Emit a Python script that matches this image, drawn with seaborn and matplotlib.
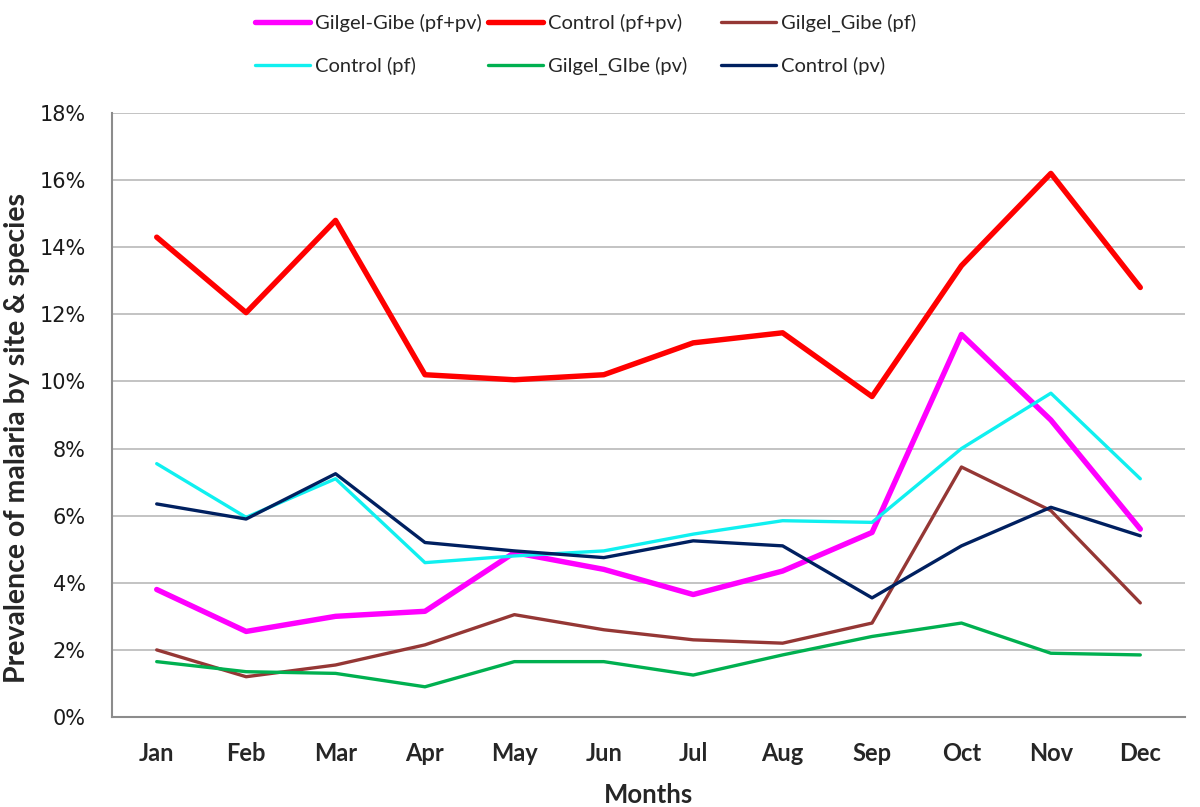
import matplotlib
matplotlib.use("Agg")
import matplotlib.pyplot as plt
import seaborn as sns
import pandas as pd
from matplotlib.ticker import FuncFormatter, MultipleLocator, FixedLocator

months = ["Jan", "Feb", "Mar", "Apr", "May", "Jun", "Jul", "Aug", "Sep", "Oct", "Nov", "Dec"]

gg_pfpv = [3.8, 2.55, 3.0, 3.15, 4.9, 4.4, 3.65, 4.35, 5.5, 11.4, 8.85, 5.6]
ctrl_pfpv = [14.3, 12.05, 14.8, 10.2, 10.05, 10.2, 11.15, 11.45, 9.55, 13.45, 16.2, 12.8]
gg_pf = [2.0, 1.2, 1.55, 2.15, 3.05, 2.6, 2.3, 2.2, 2.8, 7.45, 6.15, 3.4]
ctrl_pf = [7.55, 5.95, 7.1, 4.6, 4.8, 4.95, 5.45, 5.85, 5.8, 8.0, 9.65, 7.1]
gg_pv = [1.65, 1.35, 1.3, 0.9, 1.65, 1.65, 1.25, 1.85, 2.4, 2.8, 1.9, 1.85]
ctrl_pv = [6.35, 5.9, 7.25, 5.2, 4.95, 4.75, 5.25, 5.1, 3.55, 5.1, 6.25, 5.4]

series_names = ["Gilgel-Gibe (pf+pv)", "Control (pf+pv)", "Gilgel_Gibe (pf)",
                "Control (pf)", "Gilgel_GIbe (pv)", "Control (pv)"]
series_values = [gg_pfpv, ctrl_pfpv, gg_pf, ctrl_pf, gg_pv, ctrl_pv]
colors = ["#FF00FF", "#FF0000", "#953735", "#10F0F0", "#00B050", "#002060"]
widths = [3.9, 3.9, 2.4, 2.4, 2.4, 2.4]

rows = []
for name, vals in zip(series_names, series_values):
    for i, v in enumerate(vals):
        rows.append({"series": name, "x": i, "month": months[i], "value": v})
df = pd.DataFrame(rows)

sns.set_style("white")
leg_font, leg_size = "Lato", 14.5

fig = plt.figure(figsize=(12, 8.07), dpi=100)
ax = fig.add_axes([112/1200, 1-717/807, (1185-112)/1200, (717-113)/807])

for name, c, w in zip(series_names, colors, widths):
    sub = df[df.series == name]
    sns.lineplot(data=sub, x="x", y="value", color=c, linewidth=w, ax=ax,
                 label=name, legend=False)
handles = dict(zip(series_names, ax.get_lines()))

ax.set_xlim(-0.5, 11.5)
ax.set_ylim(0, 18)
ax.yaxis.set_major_locator(MultipleLocator(2))
ax.yaxis.set_major_formatter(FuncFormatter(lambda v, p: f"{int(round(v))}%"))
ax.grid(axis="y", color="#BEBEBE", linewidth=1.3)
ax.set_axisbelow(True)

ax.xaxis.set_major_locator(FixedLocator(range(12)))
ax.set_xticklabels(months, fontfamily="Lato", fontweight="bold", fontsize=17)
ax.xaxis.set_minor_locator(FixedLocator([i - 0.5 for i in range(13)]))
ax.tick_params(axis="x", which="major", length=0, pad=18)
ax.tick_params(axis="x", which="minor", length=7, width=1.2, color="#8C8C8C", direction="out")
ax.tick_params(axis="y", which="major", length=8, width=1.2, color="#8C8C8C", direction="out",
               labelsize=15, pad=11)
for lab in ax.get_yticklabels():
    lab.set_fontfamily("DejaVu Sans")
    lab.set_color("#1a1a1a")

for s in ["top", "right"]:
    ax.spines[s].set_visible(False)
for s in ["left", "bottom"]:
    ax.spines[s].set_color("#8C8C8C")
    ax.spines[s].set_linewidth(1.5)

ax.set_xlabel("Months", fontfamily="Lato", fontweight="bold", fontsize=18.5, labelpad=13)
ax.set_ylabel("Prevalence of malaria by site & species", fontfamily="Lato",
              fontweight="bold", fontsize=20.5)
ax.yaxis.set_label_coords(-(112 - 30) / 1073, (717 - 438) / 604)

# legend entries placed on a 3x2 grid like the reference
leg_pos = {
    "Gilgel-Gibe (pf+pv)": (255, 23), "Control (pf+pv)": (488, 23), "Gilgel_Gibe (pf)": (721, 23),
    "Control (pf)": (255, 66), "Gilgel_GIbe (pv)": (488, 66), "Control (pv)": (721, 66),
}
fs_px = leg_size * 100 / 72
for name in series_names:
    x, y = leg_pos[name]
    fig.legend([handles[name]], [name], loc="center left",
               bbox_to_anchor=(x/1200, 1-y/807), frameon=False,
               borderpad=0, borderaxespad=0,
               prop={"family": leg_font, "size": leg_size},
               handlelength=55/fs_px, handletextpad=5/fs_px)

fig.savefig("out.png", dpi=100, facecolor="white")
